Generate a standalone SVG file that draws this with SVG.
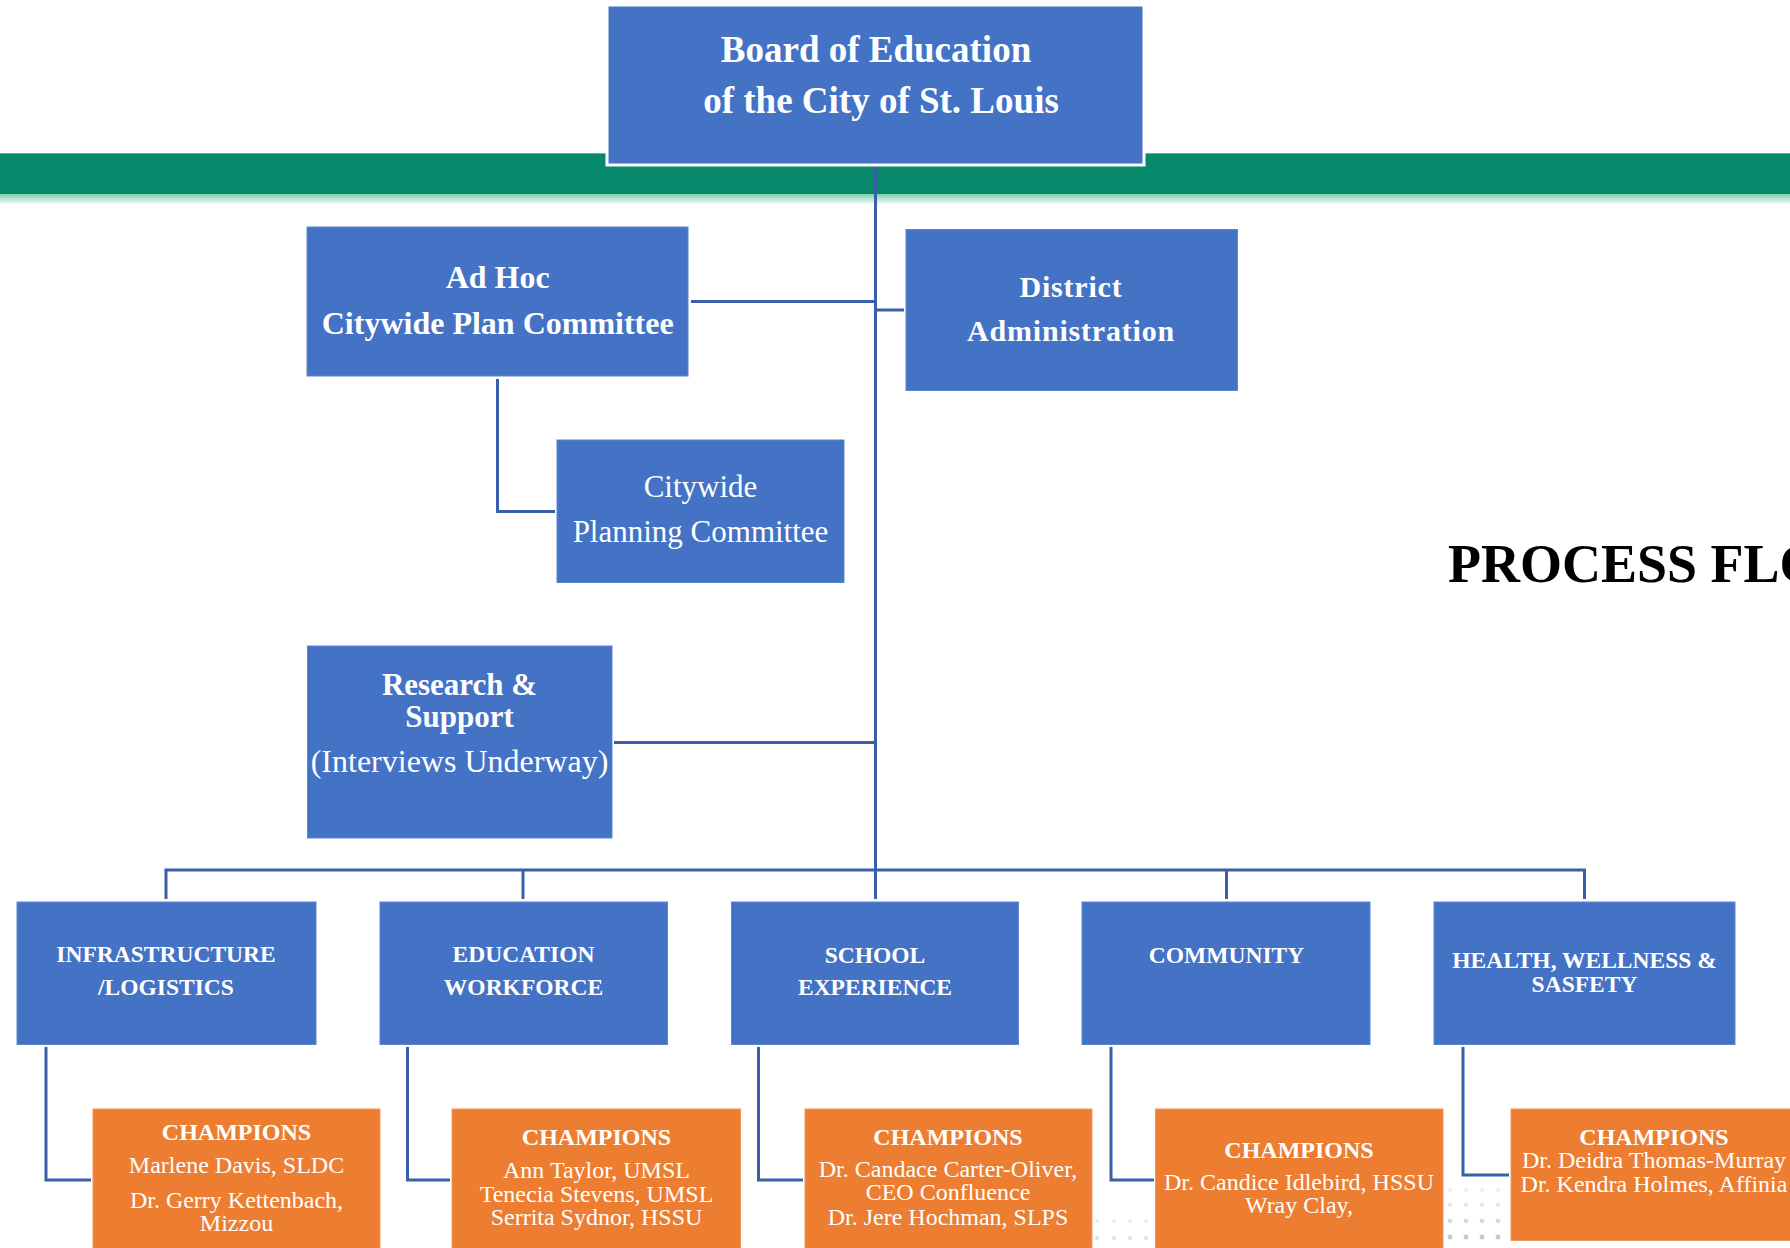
<svg xmlns="http://www.w3.org/2000/svg" width="1790" height="1248" viewBox="0 0 1790 1248">
<defs>
<linearGradient id="fade" x1="0" y1="0" x2="0" y2="1">
<stop offset="0" stop-color="#7fcfb0"/>
<stop offset="1" stop-color="#ffffff"/>
</linearGradient>
<style>
.bx{fill:#4472C4;stroke:#5d86d0;stroke-width:1}
.ch{fill:#ED7D31;stroke:#f29a5e;stroke-width:1}
.cn{fill:none;stroke:#3A5FAA;stroke-width:3}
text{font-family:"Liberation Serif","Times New Roman",serif;fill:#ffffff;text-anchor:middle}
.b{font-weight:bold}
.t37{font-size:37px}
.t32{font-size:32px}
.t31{font-size:31px}
.t27{font-size:30px;letter-spacing:0.8px}
.t23{font-size:23.5px}
.t24{font-size:24px}
.dot{fill:#9fb8b0}
</style>
</defs>
<rect x="0" y="0" width="1790" height="1248" fill="#ffffff"/>
<!-- green band -->
<rect x="0" y="153" width="1790" height="2" fill="#8a9a94"/>
<rect x="0" y="154" width="1790" height="40" fill="#05896A"/>
<rect x="0" y="194" width="1790" height="11" fill="url(#fade)"/>

<!-- decorative dots -->
<g id="dots">
<g opacity="0.25"><circle class="dot" cx="1097" cy="1221" r="2"/><circle class="dot" cx="1114" cy="1221" r="2"/><circle class="dot" cx="1130" cy="1221" r="2"/><circle class="dot" cx="1146" cy="1221" r="2"/></g>
<g opacity="0.4"><circle class="dot" cx="1097" cy="1238" r="2"/><circle class="dot" cx="1114" cy="1238" r="2"/><circle class="dot" cx="1130" cy="1238" r="2"/><circle class="dot" cx="1146" cy="1238" r="2"/></g>
<g opacity="0.2"><circle class="dot" cx="1450" cy="1190" r="2"/><circle class="dot" cx="1466" cy="1190" r="2"/><circle class="dot" cx="1482" cy="1190" r="2"/><circle class="dot" cx="1498" cy="1190" r="2"/></g>
<g opacity="0.35"><circle class="dot" cx="1450" cy="1205" r="2"/><circle class="dot" cx="1466" cy="1205" r="2"/><circle class="dot" cx="1482" cy="1205" r="2"/><circle class="dot" cx="1498" cy="1205" r="2"/></g>
<g opacity="0.5"><circle class="dot" cx="1450" cy="1221" r="2.3"/><circle class="dot" cx="1466" cy="1221" r="2.3"/><circle class="dot" cx="1482" cy="1221" r="2.3"/><circle class="dot" cx="1498" cy="1221" r="2.3"/></g>
<g opacity="0.7"><circle class="dot" cx="1450" cy="1237" r="2.5"/><circle class="dot" cx="1466" cy="1237" r="2.5"/><circle class="dot" cx="1482" cy="1237" r="2.5"/><circle class="dot" cx="1498" cy="1237" r="2.5"/></g>
</g>

<!-- connectors -->
<g id="connectors">
<path class="cn" d="M875.5 165 V870"/>
<path class="cn" d="M691 301.5 H875.5"/>
<path class="cn" d="M875.5 310 H904"/>
<path class="cn" d="M497.5 379 V511.5 H555"/>
<path class="cn" d="M614 742.5 H875.5"/>
<path class="cn" d="M166 899 V870 H1584.5 V899"/>
<path class="cn" d="M523 870 V899"/>
<path class="cn" d="M875.5 870 V899"/>
<path class="cn" d="M1226.5 870 V899"/>
<path class="cn" d="M46 1047 V1180 H91"/>
<path class="cn" d="M407.5 1047 V1180 H450"/>
<path class="cn" d="M758.5 1047 V1180 H803"/>
<path class="cn" d="M1111 1047 V1180 H1154"/>
<path class="cn" d="M1463 1047 V1175 H1509"/>
</g>

<!-- nodes -->
<g id="board">
<rect x="607" y="5" width="537" height="160" fill="#4472C4" stroke="#ffffff" stroke-width="3"/>
<text class="b t37" x="876" y="62">Board of Education</text>
<text class="b t37" x="881" y="113">of the City of St. Louis</text>
</g>
<g id="adhoc">
<rect class="bx" x="307" y="227" width="381" height="149"/>
<text class="b t32" x="497.7" y="288">Ad Hoc</text>
<text class="b t32" x="497.7" y="334">Citywide Plan Committee</text>
</g>
<g id="district">
<rect class="bx" x="906" y="229.5" width="331.5" height="161"/>
<text class="b t27" x="1071" y="297">District</text>
<text class="b t27" x="1071" y="341">Administration</text>
</g>
<g id="planning">
<rect class="bx" x="557" y="440" width="287" height="142.5"/>
<text class="t31" x="700.5" y="497">Citywide</text>
<text class="t31" x="700.5" y="542">Planning Committee</text>
</g>
<g id="research">
<rect class="bx" x="307.5" y="646" width="304.5" height="192"/>
<text class="b t31" x="459.5" y="695">Research &amp;</text>
<text class="b t31" x="459.5" y="727">Support</text>
<text class="t32" x="459.5" y="772">(Interviews Underway)</text>
</g>
<g id="infrastructure">
<rect class="bx" x="17" y="902" width="299" height="142.5"/>
<text class="b t23" x="166" y="962">INFRASTRUCTURE</text>
<text class="b t23" x="166" y="995">/LOGISTICS</text>
</g>
<g id="education">
<rect class="bx" x="380" y="902" width="287.5" height="142.5"/>
<text class="b t23" x="523.5" y="962">EDUCATION</text>
<text class="b t23" x="523.5" y="995">WORKFORCE</text>
</g>
<g id="school">
<rect class="bx" x="731.5" y="902" width="287" height="142.5"/>
<text class="b t23" x="875" y="963">SCHOOL</text>
<text class="b t23" x="875" y="995">EXPERIENCE</text>
</g>
<g id="community">
<rect class="bx" x="1082" y="902" width="288" height="142.5"/>
<text class="b t23" x="1226.5" y="963">COMMUNITY</text>
</g>
<g id="health">
<rect class="bx" x="1434" y="902" width="301" height="142.5"/>
<text class="b t23" x="1584.5" y="968">HEALTH, WELLNESS &amp;</text>
<text class="b t23" x="1584.5" y="992">SASFETY</text>
</g>
<g id="champions1">
<rect class="ch" x="93" y="1109" width="287" height="150"/>
<text class="b t24" x="236.5" y="1140">CHAMPIONS</text>
<text class="t24" x="236.5" y="1173">Marlene Davis, SLDC</text>
<text class="t24" x="236.5" y="1208">Dr. Gerry Kettenbach,</text>
<text class="t24" x="236.5" y="1231">Mizzou</text>
</g>
<g id="champions2">
<rect class="ch" x="452" y="1109" width="288.5" height="150"/>
<text class="b t24" x="596.5" y="1145">CHAMPIONS</text>
<text class="t24" x="596.5" y="1178">Ann Taylor, UMSL</text>
<text class="t24" x="596.5" y="1202">Tenecia Stevens, UMSL</text>
<text class="t24" x="596.5" y="1225">Serrita Sydnor, HSSU</text>
</g>
<g id="champions3">
<rect class="ch" x="805" y="1109" width="287" height="150"/>
<text class="b t24" x="948" y="1145">CHAMPIONS</text>
<text class="t24" x="948" y="1177">Dr. Candace Carter-Oliver,</text>
<text class="t24" x="948" y="1200">CEO Confluence</text>
<text class="t24" x="948" y="1225">Dr. Jere Hochman, SLPS</text>
</g>
<g id="champions4">
<rect class="ch" x="1155.5" y="1109" width="287.5" height="150"/>
<text class="b t24" x="1299" y="1158">CHAMPIONS</text>
<text class="t24" x="1299" y="1190">Dr. Candice Idlebird, HSSU</text>
<text class="t24" x="1299" y="1213">Wray Clay,</text>
</g>
<g id="champions5">
<rect class="ch" x="1511" y="1109" width="288" height="131.5"/>
<text class="b t24" x="1654" y="1145">CHAMPIONS</text>
<text class="t24" x="1654" y="1168">Dr. Deidra Thomas-Murray</text>
<text class="t24" x="1654" y="1192">Dr. Kendra Holmes, Affinia</text>
</g>
<g id="title">
<text x="1448" y="582" style="font-size:54px;font-weight:bold;fill:#000000;text-anchor:start">PROCESS FLOW</text>
</g>
</svg>
